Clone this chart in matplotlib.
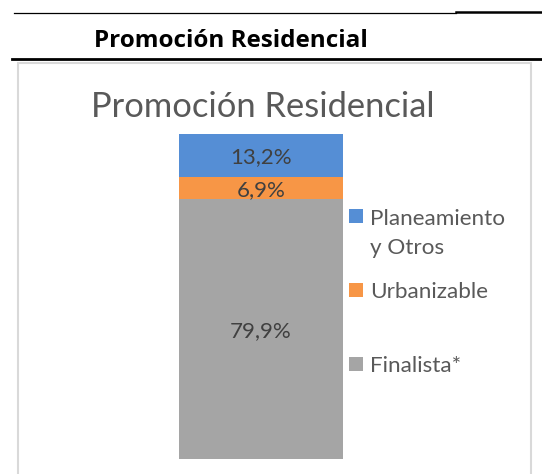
import matplotlib.pyplot as plt
from matplotlib.patches import Rectangle
from matplotlib.lines import Line2D

# Datos (porcentajes de la promoción residencial)
categorias = ['Finalista*', 'Urbanizable', 'Planeamiento\ny Otros']
valores = [79.9, 6.9, 13.2]
etiquetas = ['79,9%', '6,9%', '13,2%']
colores = ['#A5A5A5', '#F79646', '#558ED5']

W, H = 542, 474
plt.rcParams['font.family'] = ['Lato', 'DejaVu Sans']

fig = plt.figure(figsize=(W / 100, H / 100), dpi=100)
fig.patch.set_facecolor('white')


def fx(x):
    return x / W


def fy(y):
    return 1 - y / H


# Líneas de cabecera
fig.add_artist(Line2D([fx(14), fx(456)], [fy(12.5), fy(12.5)], color='black', lw=0.9))
fig.add_artist(Line2D([fx(456), fx(542)], [fy(11.5), fy(11.5)], color='black', lw=1.8))
fig.add_artist(Line2D([fx(12), fx(542)], [fy(58.5), fy(58.5)], color='black', lw=2.0))
fig.text(fx(231), fy(47), 'Promoción Residencial', fontsize=17.5, fontweight='bold',
         family=['Open Sans', 'DejaVu Sans'], color='black', ha='center', va='baseline')

# Marco del gráfico
fig.add_artist(Rectangle((fx(18), fy(490)), fx(531) - fx(18), fy(63) - fy(490),
                         transform=fig.transFigure, fill=False,
                         edgecolor='#D9D9D9', lw=1.5))

fig.text(fx(263), fy(117), 'Promoción Residencial', fontsize=24.8,
         color='#595959', ha='center', va='baseline')

# Barra apilada
ax = fig.add_axes([fx(179), fy(459), fx(343) - fx(179), fy(134) - fy(459)])
bottom = 0
for cat, val, lab, col in zip(categorias, valores, etiquetas, colores):
    ax.bar(0, val, width=1, bottom=bottom, color=col, align='edge')
    ax.annotate(lab, (0.5, bottom + val / 2), xytext=(0, -5.8), textcoords='offset points',
                ha='center', va='baseline', fontsize=16, color='#404040')
    bottom += val
ax.set_xlim(0, 1)
ax.set_ylim(0, 100)
ax.axis('off')

# Leyenda (va='baseline' usa la última línea en textos de varias líneas)
for i, (cat, col) in enumerate(zip(categorias[::-1], colores[::-1])):
    yc = 216 + 74 * i
    fig.add_artist(Rectangle((fx(349), fy(yc + 7)), fx(363) - fx(349), fy(yc - 7) - fy(yc + 7),
                             transform=fig.transFigure, facecolor=col, edgecolor='none'))
    extra = 30 * cat.count('\n')
    fig.text(fx(370), fy(yc + 7.5 + extra), cat, fontsize=16.2, color='#595959', ha='left',
             va='baseline', linespacing=1.55, transform=fig.transFigure)

fig.savefig('out.png', dpi=100, facecolor='white')
